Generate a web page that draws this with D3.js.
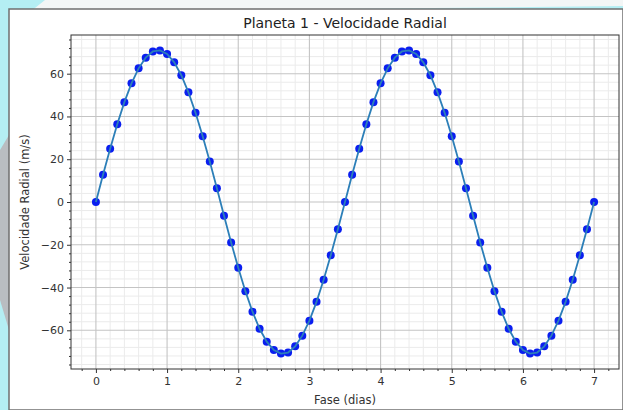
<!DOCTYPE html>
<html>
<head>
<meta charset="utf-8">
<script src="https://cdn.jsdelivr.net/npm/d3@7"></script>
<style>
  body { margin: 0; background: #b4eef3; }
  svg { display: block; font-family: "DejaVu Sans", sans-serif; }
</style>
</head>
<body>
<div id="chart"></div>
<script>
// phase (days), one point every 0.1 day
var fase = [0.0, 0.1, 0.2, 0.3, 0.4, 0.5, 0.6, 0.7, 0.8, 0.9,
  1.0, 1.1, 1.2, 1.3, 1.4, 1.5, 1.6, 1.7, 1.8, 1.9,
  2.0, 2.1, 2.2, 2.3, 2.4, 2.5, 2.6, 2.7, 2.8, 2.9,
  3.0, 3.1, 3.2, 3.3, 3.4, 3.5, 3.6, 3.7, 3.8, 3.9,
  4.0, 4.1, 4.2, 4.3, 4.4, 4.5, 4.6, 4.7, 4.8, 4.9,
  5.0, 5.1, 5.2, 5.3, 5.4, 5.5, 5.6, 5.7, 5.8, 5.9,
  6.0, 6.1, 6.2, 6.3, 6.4, 6.5, 6.6, 6.7, 6.8, 6.9, 7.0];

// radial velocity (m/s)
var velocidade = [0, 12.7, 24.9, 36.4, 46.7, 55.5, 62.5, 67.5, 70.4, 70.9,
  69.2, 65.3, 59.3, 51.3, 41.7, 30.8, 18.9, 6.4, -6.4, -18.9,
  -30.8, -41.7, -51.3, -59.3, -65.3, -69.2, -70.9, -70.4, -67.5, -62.5,
  -55.5, -46.7, -36.4, -24.9, -12.7, 0, 12.7, 24.9, 36.4, 46.7,
  55.5, 62.5, 67.5, 70.4, 70.9, 69.2, 65.3, 59.3, 51.3, 41.7,
  30.8, 18.9, 6.4, -6.4, -18.9, -30.8, -41.7, -51.3, -59.3, -65.3,
  -69.2, -70.9, -70.4, -67.5, -62.5, -55.5, -46.7, -36.4, -24.9, -12.7, 0];

var xTicks = [0, 1, 2, 3, 4, 5, 6, 7];
var yTicks = [-60, -40, -20, 0, 20, 40, 60];

var W = 623, H = 410;
var margin = { top: 35, right: 4, bottom: 41, left: 71 };
var width = W - margin.left - margin.right,
    height = H - margin.top - margin.bottom;

var data = fase.map(function(f, i) { return { t: f, v: velocidade[i] }; });

var x = d3.scaleLinear().domain([-0.35, 7.35]).range([0, width]);
var y = d3.scaleLinear().domain([-78.1, 78.1]).range([height, 0]);

var svg = d3.select("#chart").append("svg")
  .attr("width", W)
  .attr("height", H);

// decorative page background
svg.append("rect").attr("width", W).attr("height", H).attr("fill", "#b4eef3");
svg.append("path").attr("d", "M45,0 L623,0 L623,6 L30,12 Z").attr("fill", "#f3f6f6");
svg.append("path").attr("d", "M0,150 L9,135 L9,330 L0,300 Z").attr("fill", "#b9bdc1");

// figure panel
svg.append("rect")
  .attr("x", 9).attr("y", 9)
  .attr("width", W - 9).attr("height", H - 9)
  .attr("fill", "#fff")
  .attr("stroke", "#6f6f6f")
  .attr("stroke-width", 1.5);

var g = svg.append("g")
  .attr("transform", "translate(" + margin.left + "," + margin.top + ")");

// minor grid
var xMinor = d3.range(-0.2, 7.3, 0.2).filter(function(d) { return Math.abs(d - Math.round(d)) > 0.01; });
var yMinor = d3.range(-76, 77, 4).filter(function(d) { return d % 20 !== 0; });

g.selectAll(".xminor").data(xMinor).enter().append("line")
  .attr("x1", function(d) { return x(d); }).attr("x2", function(d) { return x(d); })
  .attr("y1", 0).attr("y2", height)
  .attr("stroke", "#ebebeb").attr("stroke-width", 1);
g.selectAll(".yminor").data(yMinor).enter().append("line")
  .attr("y1", function(d) { return y(d); }).attr("y2", function(d) { return y(d); })
  .attr("x1", 0).attr("x2", width)
  .attr("stroke", "#ebebeb").attr("stroke-width", 1);

// major grid
g.selectAll(".xmajor").data(xTicks).enter().append("line")
  .attr("x1", function(d) { return x(d); }).attr("x2", function(d) { return x(d); })
  .attr("y1", 0).attr("y2", height)
  .attr("stroke", "#c4c4c4").attr("stroke-width", 1.1);
g.selectAll(".ymajor").data(yTicks).enter().append("line")
  .attr("y1", function(d) { return y(d); }).attr("y2", function(d) { return y(d); })
  .attr("x1", 0).attr("x2", width)
  .attr("stroke", "#c4c4c4").attr("stroke-width", 1.1);

// points then line on top
g.selectAll(".pt").data(data).enter().append("circle")
  .attr("cx", function(d) { return x(d.t); })
  .attr("cy", function(d) { return y(d.v); })
  .attr("r", 4)
  .attr("fill", "#0a1ef0");

var line = d3.line()
  .x(function(d) { return x(d.t); })
  .y(function(d) { return y(d.v); });

g.append("path")
  .attr("d", line(data))
  .attr("fill", "none")
  .attr("stroke", "#2c7fb8")
  .attr("stroke-width", 1.8);

// frame
g.append("rect")
  .attr("width", width).attr("height", height)
  .attr("fill", "none").attr("stroke", "#333").attr("stroke-width", 1);

// axes
var xAxis = g.append("g")
  .attr("transform", "translate(0," + height + ")")
  .call(d3.axisBottom(x).tickValues(xTicks).tickFormat(d3.format("d")).tickSize(4).tickPadding(4));
g.append("g")
  .attr("transform", "translate(0," + height + ")")
  .call(d3.axisBottom(x).tickValues(xMinor).tickFormat("").tickSize(2));

g.append("g")
  .call(d3.axisLeft(y).tickValues(yTicks).tickFormat(function(d) { return d < 0 ? "\u2212" + (-d) : d; }).tickSize(4).tickPadding(3));
g.append("g")
  .call(d3.axisLeft(y).tickValues(yMinor).tickFormat("").tickSize(2));

g.selectAll(".domain").remove();
g.selectAll(".tick line").attr("stroke", "#333");
g.selectAll(".tick text")
  .attr("fill", "#333")
  .style("font-size", "11px")
  .style("font-family", "DejaVu Sans");

// labels
svg.append("text")
  .attr("x", margin.left + width / 2)
  .attr("y", 28)
  .attr("text-anchor", "middle")
  .attr("fill", "#222")
  .style("font-size", "14px")
  .text("Planeta 1 - Velocidade Radial");

svg.append("text")
  .attr("x", margin.left + width / 2)
  .attr("y", 404)
  .attr("text-anchor", "middle")
  .attr("fill", "#333")
  .style("font-size", "11.5px")
  .text("Fase (dias)");

svg.append("text")
  .attr("transform", "translate(29," + (margin.top + height / 2) + ") rotate(-90)")
  .attr("text-anchor", "middle")
  .attr("fill", "#333")
  .style("font-size", "11.5px")
  .text("Velocidade Radial (m/s)");
</script>
</body>
</html>
